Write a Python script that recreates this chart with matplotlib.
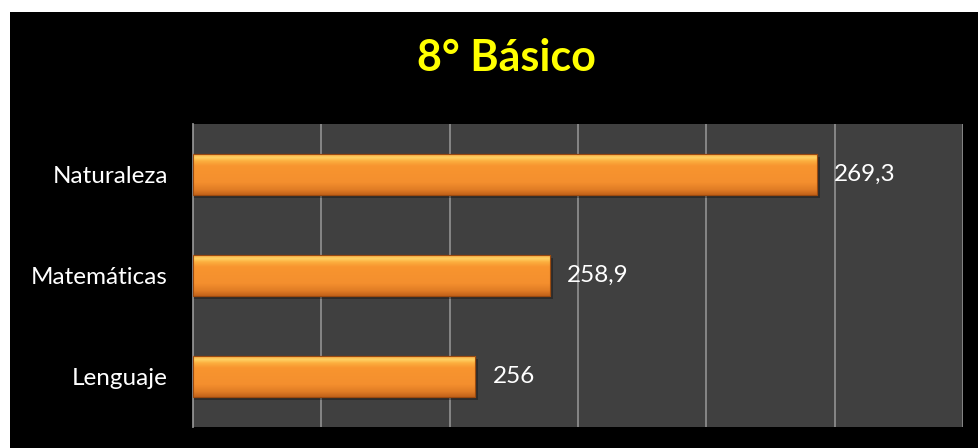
import numpy as np
import matplotlib
matplotlib.use("Agg")
import matplotlib.pyplot as plt
from matplotlib.colors import LinearSegmentedColormap
from matplotlib.patches import Rectangle

plt.rcParams['font.family'] = ['Lato', 'DejaVu Sans']

subjects = ['Lenguaje', 'Matemáticas', 'Naturaleza']
scores = [256, 258.9, 269.3]
score_labels = ['256', '258,9', '269,3']
title = '8° Básico'

x_min, x_max = 245, 275

fig = plt.figure(figsize=(9.79, 4.48), dpi=100, facecolor='white')
# black panel with a thin white margin on top and left
fig.patches.append(Rectangle((10 / 979, 0), 1, 1 - 12 / 448, transform=fig.transFigure,
                             facecolor='black', edgecolor='none', zorder=-1))

ax = fig.add_axes([193 / 979, 21 / 448, 770 / 979, 303 / 448])
ax.set_facecolor('#404040')

bars = ax.barh(subjects, [s - x_min for s in scores], left=x_min, height=0.41,
               color='#F7922F', edgecolor='#9a4a10', linewidth=0.8, zorder=3)

# vertical gradient inside each bar (light top, darker bottom)
cmap = LinearSegmentedColormap.from_list('bar', [
    (0.0, '#c2621a'), (0.12, '#e07c25'), (0.3, '#f48f2e'), (0.7, '#f8952f'),
    (0.82, '#fcb040'), (0.9, '#ffd466'), (1.0, '#f59a35')])
grad = np.linspace(0, 1, 100).reshape(-1, 1)
for b in bars:
    x0, y0 = b.get_x(), b.get_y()
    w, h = b.get_width(), b.get_height()
    # soft shadow
    ax.add_patch(Rectangle((x0, y0 - 0.03), w + 0.12, h, facecolor='black', alpha=0.3,
                           edgecolor='none', zorder=2))
    im = ax.imshow(grad, extent=(x0, x0 + w, y0 + h, y0), origin='upper', cmap=cmap,
                   aspect='auto', zorder=3.5, interpolation='bicubic')
    im.set_clip_path(b)
    ax.add_patch(Rectangle((x0, y0), w, h, facecolor='none', edgecolor='#9a4a10',
                           linewidth=0.8, zorder=4))

for b, lab in zip(bars, score_labels):
    ax.annotate(lab, (b.get_x() + b.get_width(), b.get_y() + b.get_height() / 2),
                xytext=(12.5, 0), textcoords='offset points', va='center', ha='left',
                color='white', fontsize=17.5, zorder=5)

ax.set_xlim(x_min, x_max)
ax.set_ylim(-0.5, 2.5)
ax.set_xticks(np.arange(x_min, x_max + 1, 5))
ax.set_xticklabels([])
ax.tick_params(axis='x', length=0)
ax.tick_params(axis='y', length=0, colors='white', labelsize=17.5, pad=18)
ax.grid(axis='x', color='#8c8c8c', linewidth=1.3, zorder=1)
ax.set_axisbelow(True)
for side in ['top', 'right', 'bottom']:
    ax.spines[side].set_visible(False)
ax.spines['left'].set_color('#8c8c8c')
ax.spines['left'].set_linewidth(1.3)

fig.text(506 / 979, 1 - 71 / 448, title, color='#FFFF00', fontsize=31, fontweight='bold',
         ha='center', va='baseline')

fig.savefig('out.png', dpi=100, facecolor=fig.get_facecolor())
